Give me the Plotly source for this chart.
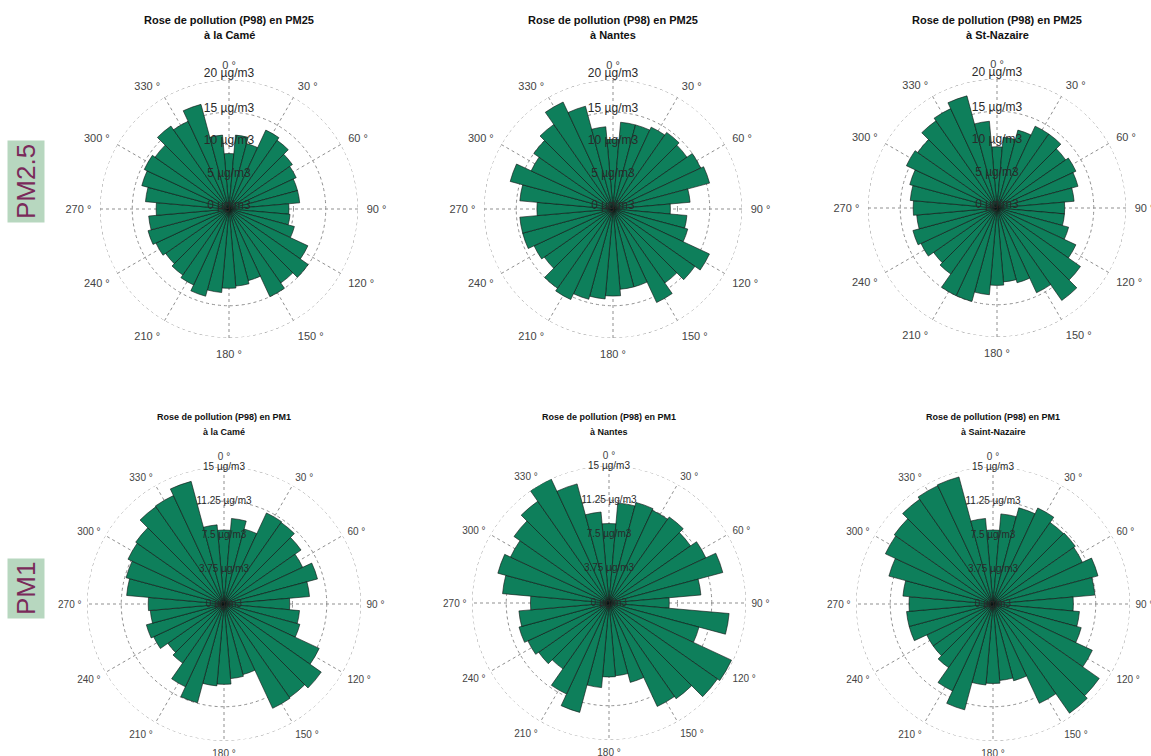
import plotly.graph_objects as go

W, H = 1151, 756
FONT = "Liberation Sans, Arial, sans-serif"

# Wind sectors (10° bins, clockwise from north)
directions = [10 * i for i in range(36)]

# P98 concentration per wind sector (µg/m3)
pm25_came = [8.6, 11.5, 10.5, 13.5, 13.0, 12.0, 11.5, 11.0, 11.0, 9.3, 9.5, 10.5,
             13.5, 15.0, 14.0, 15.0, 11.5, 12.0, 12.3, 13.0, 14.0, 13.0, 12.5, 12.0,
             12.5, 13.0, 12.5, 11.3, 13.0, 14.0, 14.5, 14.0, 15.7, 15.0, 16.8, 11.5]
pm25_nantes = [10.8, 13.5, 13.5, 14.0, 14.5, 14.0, 15.0, 15.5, 12.0, 8.9, 11.5, 12.0,
               16.5, 15.5, 14.0, 16.0, 12.5, 12.5, 13.5, 14.0, 14.5, 15.5, 15.0, 13.0,
               13.5, 14.5, 14.5, 11.8, 14.5, 16.5, 14.0, 15.0, 16.0, 18.3, 16.5, 12.8]
pm25_stnazaire = [9.5, 11.0, 12.5, 14.0, 14.0, 13.0, 13.5, 13.0, 12.0, 10.5, 10.5, 11.5,
                  13.5, 15.8, 17.5, 14.5, 12.0, 11.5, 12.0, 13.5, 15.0, 15.0, 12.5, 12.0,
                  13.0, 13.5, 12.5, 13.0, 13.5, 14.0, 15.5, 15.0, 16.5, 17.0, 18.0, 13.5]
pm1_came = [8.1, 9.4, 8.5, 11.0, 10.9, 10.3, 9.5, 10.6, 9.4, 7.2, 8.3, 8.6,
            11.5, 13.0, 12.5, 12.6, 8.0, 8.2, 8.8, 9.0, 11.2, 10.0, 7.9, 7.5,
            8.5, 8.8, 8.1, 8.3, 10.7, 11.1, 11.6, 11.8, 13.0, 13.1, 13.9, 8.7]
pm1_nantes = [8.7, 11.0, 11.4, 11.2, 11.5, 10.9, 11.7, 12.9, 10.1, 6.6, 13.2, 10.2,
              14.8, 14.5, 12.8, 12.5, 9.0, 8.0, 8.1, 9.3, 12.4, 11.0, 8.8, 9.4,
              9.8, 10.2, 9.9, 8.6, 11.7, 12.6, 11.9, 12.7, 13.6, 15.0, 13.5, 10.0]
pm1_saintnazaire = [8.1, 9.9, 10.9, 11.6, 10.9, 11.0, 10.8, 11.9, 11.2, 8.8, 9.5, 10.0,
                    12.0, 14.2, 14.6, 12.0, 8.7, 8.4, 8.7, 8.9, 12.0, 10.5, 8.5, 8.0,
                    8.0, 9.5, 9.5, 9.2, 9.9, 11.8, 13.0, 13.2, 14.0, 14.3, 14.4, 9.4]

# Radial ticks
pm25_ticks = [0, 5, 10, 15, 20]
pm25_labels = ["0 µg/m3", "5 µg/m3", "10 µg/m3", "15 µg/m3", "20 µg/m3"]
pm1_ticks = [0, 3.75, 7.5, 11.25, 15]
pm1_labels = ["0 µg/m3", "3.75 µg/m3", "7.5 µg/m3", "11.25 µg/m3", "15 µg/m3"]

angle_ticks = list(range(0, 360, 30))
angle_labels = [f"{a} °" for a in angle_ticks]

titles = [
    ("Rose de pollution (P98) en PM25", "à la Camé"),
    ("Rose de pollution (P98) en PM25", "à Nantes"),
    ("Rose de pollution (P98) en PM25", "à St-Nazaire"),
    ("Rose de pollution (P98) en PM1", "à la Camé"),
    ("Rose de pollution (P98) en PM1", "à Nantes"),
    ("Rose de pollution (P98) en PM1", "à Saint-Nazaire"),
]
series = [pm25_came, pm25_nantes, pm25_stnazaire, pm1_came, pm1_nantes, pm1_saintnazaire]

# Panel geometry in pixels: centre x, centre y, radius
panels = [
    (229, 209, 129), (613, 209, 129), (997, 208, 129),
    (224, 604, 137), (609, 603, 137), (993, 604, 137),
]

GRID = "#8f8f8f"
circle_theta = list(range(0, 361, 2))

fig = go.Figure()
layout = dict(
    template="none",
    width=W, height=H, margin=dict(l=0, r=0, t=0, b=0),
    paper_bgcolor="white", plot_bgcolor="white", showlegend=False,
    font=dict(family=FONT, color="#444444"), annotations=[],
)

for k, (vals, (t1, t2), (cx, cy, R)) in enumerate(zip(series, titles, panels)):
    pid = "polar" if k == 0 else f"polar{k+1}"
    top = k < 3
    ticks = pm25_ticks if top else pm1_ticks
    tlabels = pm25_labels if top else pm1_labels
    rmax = ticks[-1]
    ang_size = 11 if top else 10
    rad_size = 12 if top else 10

    fig.add_trace(go.Barpolar(
        r=vals, theta=directions, width=10, subplot=pid,
        marker=dict(color="#0e7f5b", line=dict(color="#111111", width=0.6)),
        hoverinfo="skip",
    ))
    # dotted outer ring at the last tick value
    fig.add_trace(go.Scatterpolar(
        r=[rmax] * len(circle_theta), theta=circle_theta, mode="lines",
        line=dict(color=GRID, width=1, dash="dot"), cliponaxis=False,
        subplot=pid, hoverinfo="skip",
    ))
    # ring labels along the north spoke
    if top:
        lab_r = [v + 0.5 if v < rmax else v for v in ticks]
        lab_pos = ["middle center" if v < rmax else "top center" for v in ticks]
    else:
        lab_r = list(ticks)
        lab_pos = ["middle center"] * len(ticks)
    fig.add_trace(go.Scatterpolar(
        r=lab_r, theta=[0] * len(ticks),
        mode="text", text=tlabels, textposition=lab_pos, cliponaxis=False,
        textfont=dict(size=rad_size, color="#2a2a2a", family=FONT),
        subplot=pid, hoverinfo="skip",
    ))

    layout[pid] = dict(
        domain=dict(x=[(cx - R) / W, (cx + R) / W],
                    y=[(H - cy - R) / H, (H - cy + R) / H]),
        bgcolor="white",
        radialaxis=dict(range=[0, rmax], tickvals=ticks, showticklabels=False,
                        ticks="", showline=False, showgrid=True,
                        gridcolor=GRID, griddash="dot", gridwidth=1),
        angularaxis=dict(direction="clockwise", rotation=90, tickmode="array",
                         tickvals=angle_ticks, ticktext=angle_labels,
                         ticks="outside", ticklen=6 if top else 3,
                         tickcolor="rgba(0,0,0,0)",
                         showline=False,
                         showgrid=True, gridcolor=GRID, griddash="dot",
                         gridwidth=1,
                         tickfont=dict(size=ang_size, color="#444444", family=FONT)),
    )

    ty1, ty2 = (20, 35) if top else (417, 432)
    tsize = 11 if top else 9
    for txt, ty in ((t1, ty1), (t2, ty2)):
        layout["annotations"].append(dict(
            x=cx / W, y=1 - ty / H, xref="paper", yref="paper", text=f"<b>{txt}</b>",
            showarrow=False, xanchor="center", yanchor="middle",
            font=dict(size=tsize, color="#111111", family=FONT),
        ))

# Row labels
for txt, yc in (("PM2.5", 182), ("PM1", 589)):
    layout["annotations"].append(dict(
        x=26 / W, y=1 - yc / H, xref="paper", yref="paper", text=txt,
        showarrow=False, textangle=-90, xanchor="center", yanchor="middle",
        bgcolor="#b7d7bf", borderpad=3,
        font=dict(size=26, color="#7a2a5a", family=FONT),
    ))

fig.update_layout(**layout)
fig.write_html("out.html")
